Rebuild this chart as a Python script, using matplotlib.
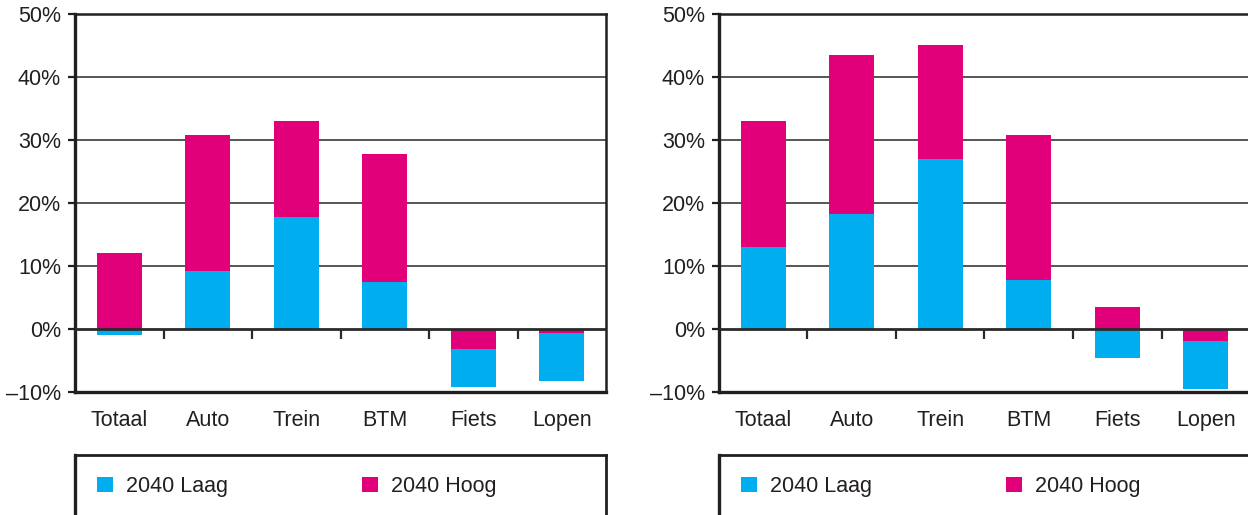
import matplotlib
matplotlib.use("Agg")
import matplotlib.pyplot as plt
from matplotlib.markers import TICKDOWN

plt.rcParams['font.family'] = ['Liberation Sans', 'DejaVu Sans']

categories = ["Totaal", "Auto", "Trein", "BTM", "Fiets", "Lopen"]
series_names = ["2040 Laag", "2040 Hoog"]

left_laag = [-1.0, 9.2, 17.8, 7.5, -9.2, -8.3]
left_hoog = [12.0, 30.8, 33.0, 27.8, -3.2, -0.7]

right_laag = [13.0, 18.3, 27.0, 7.7, -4.6, -9.5]
right_hoog = [33.0, 43.5, 45.1, 30.8, 3.5, -1.9]

yticks = [-10, 0, 10, 20, 30, 40, 50]
ytick_labels = ["\u201310%", "0%", "10%", "20%", "30%", "40%", "50%"]

BLUE = "#00AEEF"
MAGENTA = "#E2007A"
TXT = "#231F20"
GRID = "#3a3a3a"
FS = 15.5

W, H = 1248, 515
fig = plt.figure(figsize=(W / 100, H / 100), dpi=100)


def px(x0, y0, x1, y1):
    return [x0 / W, 1 - y1 / H, (x1 - x0) / W, (y1 - y0) / H]


def panel(ax, laag, hoog):
    x = list(range(len(categories)))
    b_laag = ax.bar(x, laag, width=0.51, color=BLUE, label=series_names[0], linewidth=0)
    b_hoog = ax.bar(x, hoog, width=0.51, color=MAGENTA, label=series_names[1], linewidth=0)
    for pl, ph, vl, vh in zip(b_laag.patches, b_hoog.patches, laag, hoog):
        if abs(vl) >= abs(vh):
            pl.set_zorder(2); ph.set_zorder(3)
        else:
            pl.set_zorder(3); ph.set_zorder(2)
    ax.set_xlim(-0.5, len(categories) - 0.5)
    ax.set_ylim(-10, 50)
    ax.set_yticks(yticks)
    ax.set_yticklabels(ytick_labels)
    for v in yticks[2:-1]:
        ax.axhline(v, color=GRID, lw=1.2, zorder=1)
    ax.axhline(0, color="#2a2a2a", lw=2.0, zorder=4)
    bounds = [i + 0.5 for i in range(len(categories) - 1)]
    ax.plot(bounds, [0] * len(bounds), linestyle="none", marker=TICKDOWN,
            markersize=7, markeredgewidth=1.6, color="#2a2a2a", zorder=4, clip_on=False)
    ax.set_xticks(x)
    ax.set_xticklabels(categories)
    ax.tick_params(axis="x", length=0, pad=13, labelsize=FS, colors=TXT)
    ax.tick_params(axis="y", length=5, width=1.6, pad=5, labelsize=FS, colors=TXT)
    for s in ["left", "bottom"]:
        ax.spines[s].set_linewidth(2.4)
        ax.spines[s].set_color("#231F20")
    for s in ["top", "right"]:
        ax.spines[s].set_linewidth(1.8)
        ax.spines[s].set_color("#231F20")
    return b_laag, b_hoog


def legend_box(x0, x1, handles):
    lax = fig.add_axes(px(x0, 455, x1, 560))
    lax.set_xticks([]); lax.set_yticks([])
    for s in lax.spines.values():
        s.set_linewidth(2.0)
        s.set_color("#231F20")
    lax.spines["left"].set_linewidth(2.4)
    leg = lax.legend(handles=handles, labels=series_names, ncol=2, frameon=False,
                     loc="upper left",
                     bbox_to_anchor=((x0 + 22) / W, 1 - 476 / H),
                     bbox_transform=fig.transFigure,
                     borderpad=0, borderaxespad=0,
                     handlelength=0.75, handleheight=0.75, handletextpad=0.62,
                     columnspacing=6.2, fontsize=FS)
    for t in leg.get_texts():
        t.set_color(TXT)


ax1 = fig.add_axes(px(75, 14, 606, 392))
h1 = panel(ax1, left_laag, left_hoog)
legend_box(75, 606, list(h1))

ax2 = fig.add_axes(px(719, 14, 1250, 392))
h2 = panel(ax2, right_laag, right_hoog)
legend_box(719, 1250, list(h2))

fig.savefig("out.png", dpi=100)
